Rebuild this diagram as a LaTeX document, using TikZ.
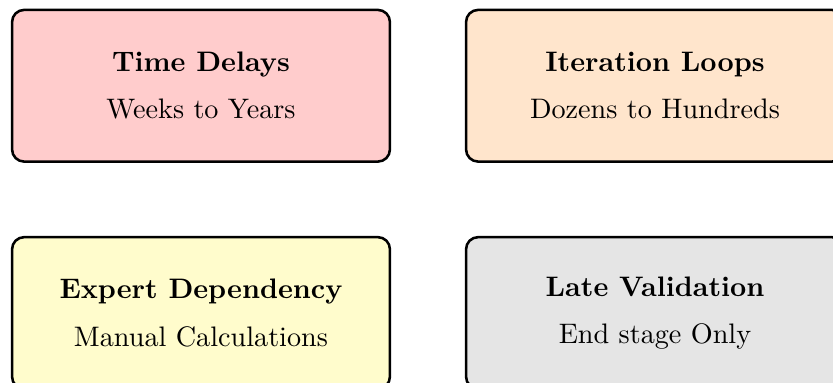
\documentclass[tikz,border=0pt]{standalone}
\usepackage{xcolor}
\begin{document}
\begin{tikzpicture}[x=0.3546pt,y=-0.3546pt,
  card/.style={draw=black, line width=0.9pt, rounded corners=4.3pt,
    minimum width=134pt, minimum height=53.8pt, inner sep=0pt},
  cardtext/.style={align=center, inner sep=0pt, font=\normalsize}]
  \useasboundingbox (0,0) rectangle (833,383);
  \clip (0,0) rectangle (833,383);

  % four cards in a 2x2 grid
  \node[card, fill=red!20]    (delays) at (201,85.75) {};
  \node[card, fill=orange!20] (loops)  at (655,85.75) {};
  \node[card, fill=yellow!20] (expert) at (201,313)   {};
  \node[card, fill=gray!20]   (late)   at (655,313)   {};

  % card captions
  \node[cardtext] (delaystext) at (delays.center)
    {\textbf{Time Delays}\\[4.8pt]Weeks to Years};
  \node[cardtext] (loopstext) at (loops.center)
    {\textbf{Iteration Loops}\\[4.8pt]Dozens to Hundreds};
  \node[cardtext] (experttext) at (expert.center)
    {\textbf{Expert Dependency}\\[4.8pt]Manual Calculations};
  \node[cardtext] (latetext) at (late.center)
    {\textbf{Late Validation}\\[4.8pt]End stage Only};
\end{tikzpicture}
\end{document}
